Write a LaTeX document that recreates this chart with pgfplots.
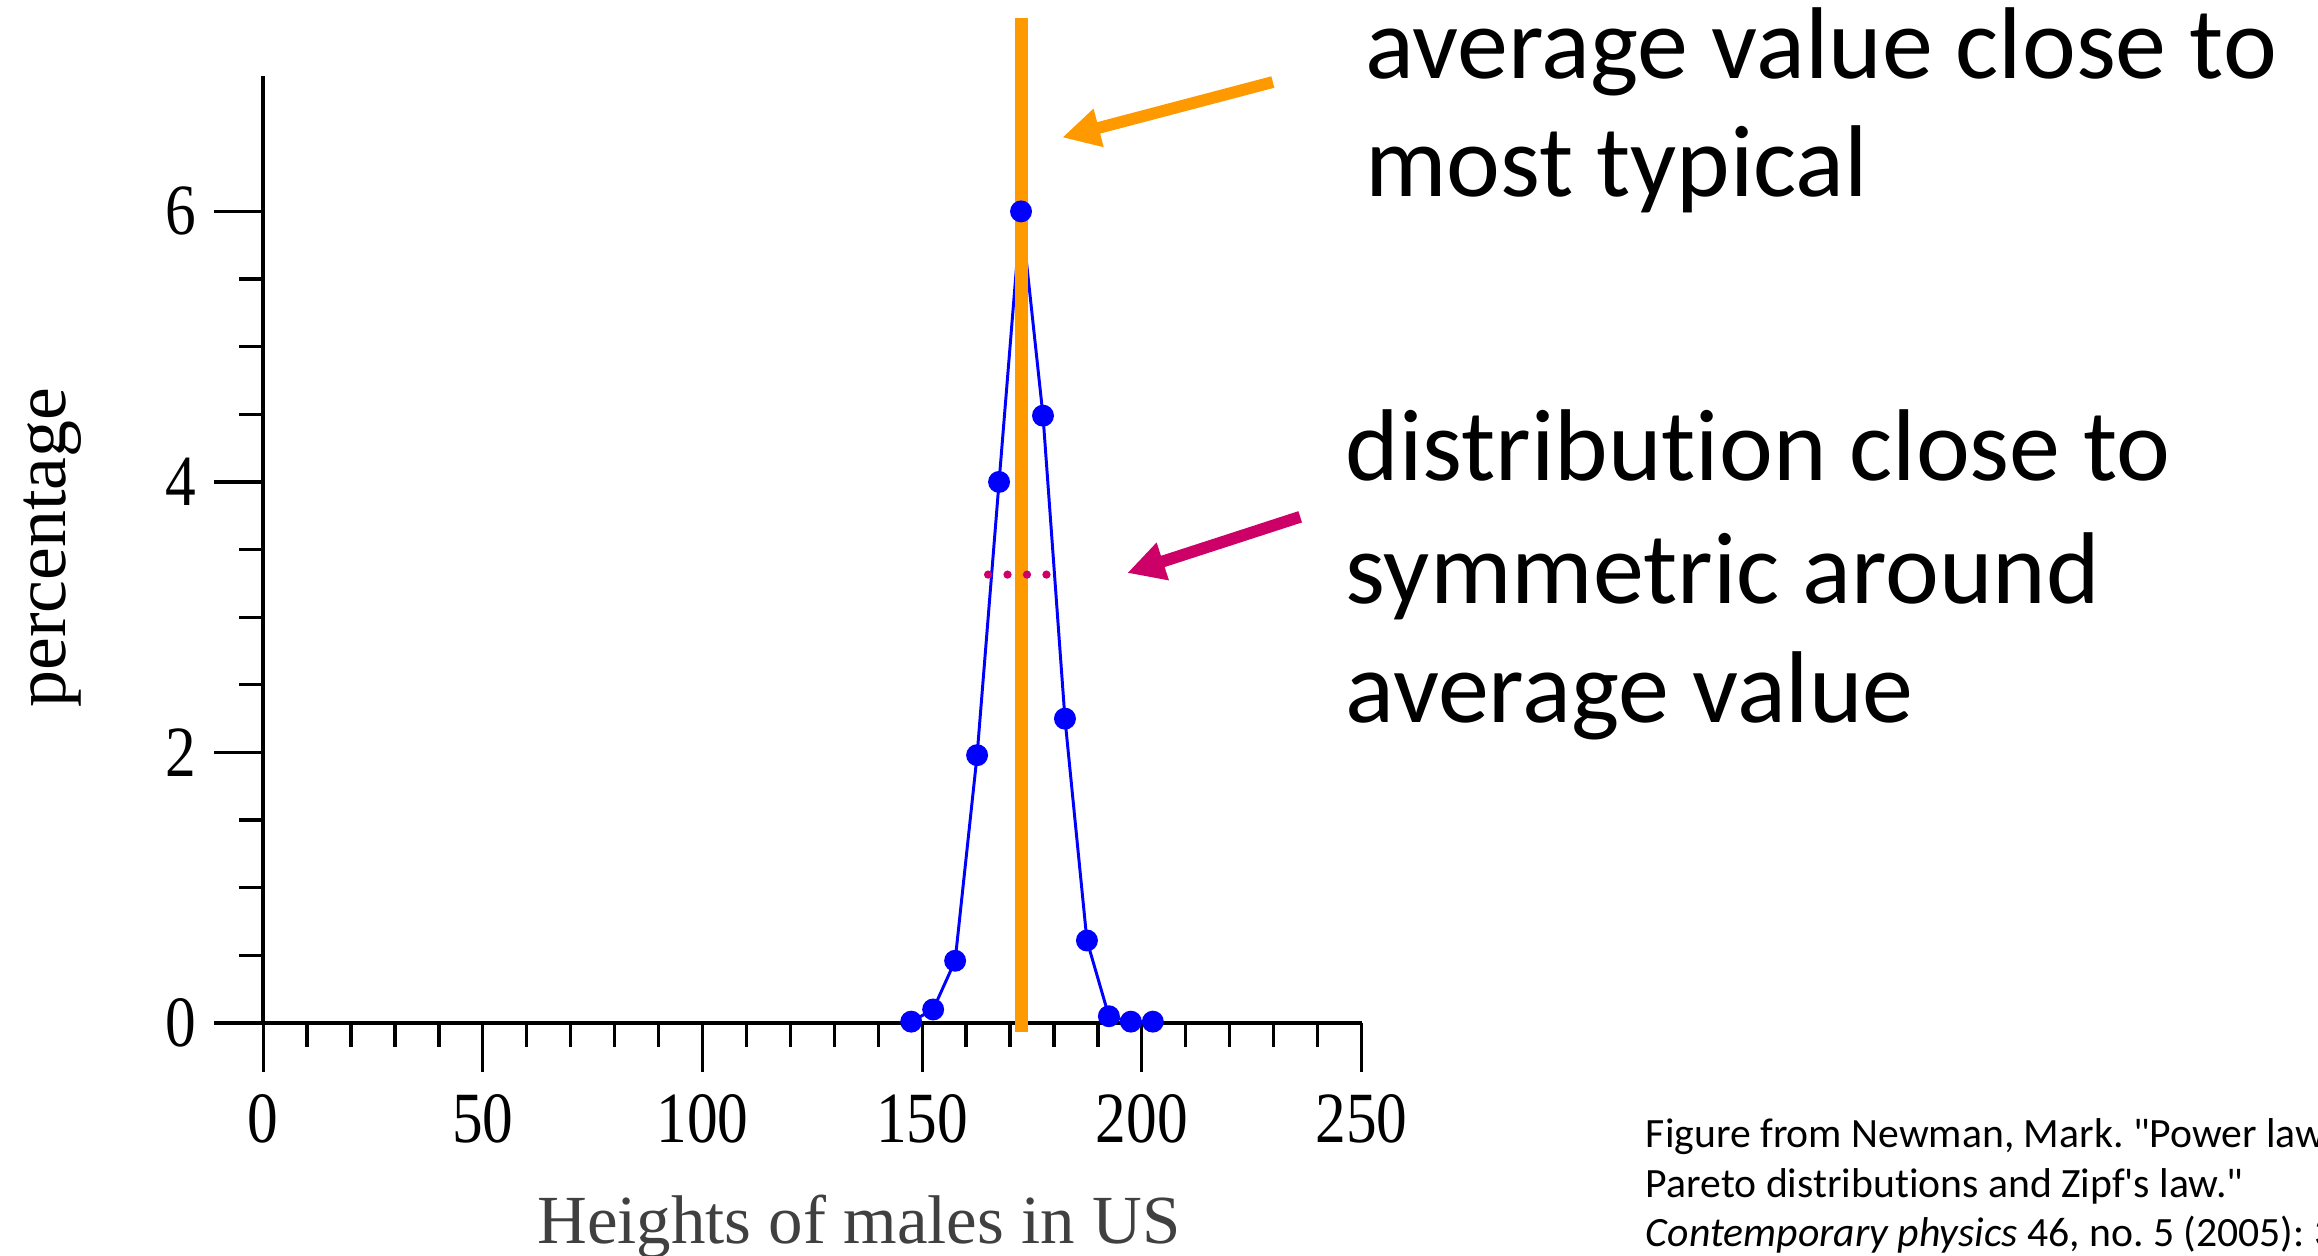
\documentclass[border=0pt]{standalone}
\usepackage{pgfplots}
\pgfplotsset{compat=1.18}
\usetikzlibrary{arrows.meta}
\usepackage{fontspec}
\setmainfont{Liberation Serif}
\newfontfamily\calibri[Ligatures=CommonOff]{Carlito}
\newfontfamily\tickfont[FakeStretch=0.85]{Liberation Serif}
\definecolor{orng}{RGB}{255,153,0}
\definecolor{pnk}{RGB}{204,0,102}
\definecolor{lblgray}{RGB}{64,64,64}
\frenchspacing

\begin{document}
\begin{tikzpicture}
\useasboundingbox (0,0) rectangle (784pt,-424.5pt);
\begin{axis}[
  at={(89pt,-346pt)}, anchor=south west,
  scale only axis, width=371.5pt, height=320.25pt,
  xmin=0, xmax=250, ymin=0, ymax=7,
  axis lines=left,
  axis line style={-, line width=1.4pt, black},
  xtick={0,50,...,250}, ytick={0,2,4,6},
  minor x tick num=4, minor y tick num=3,
  tick align=outside,
  major tick length=16.5pt, minor tick length=8pt,
  every tick/.style={black, line width=1.1pt},
  tick label style={font=\tickfont\fontsize{24.4}{28}\selectfont, /pgf/number format/assume math mode=true},
  xticklabel style={yshift=-4pt},
  yticklabel style={xshift=-2.5pt},
  clip=false,
  xlabel={Heights of males in US},
  xlabel style={at={(axis description cs:0.5424,0)}, anchor=base, yshift=-74.5pt, font=\fontsize{23.3}{27}\selectfont, text=lblgray, inner sep=0pt},
  ylabel={percentage},
  ylabel style={at={(axis description cs:-0.1803,0.502)}, anchor=base, font=\fontsize{25}{29}\selectfont, text=black, inner sep=0pt},
]
\addplot[blue, line width=1pt, mark=*, mark size=3.2pt, mark options={fill=blue, draw=blue}]
  coordinates {(147.5,0.01) (152.5,0.10) (157.5,0.46) (162.5,1.98) (167.5,4.0) (172.5,6.0)
               (177.5,4.49) (182.5,2.25) (187.5,0.61) (192.5,0.05) (197.5,0.01) (202.5,0.01)};
\addplot[orng, line width=4.3pt, forget plot] coordinates {(172.6,-0.07) (172.6,7.43)};
\addplot[pnk, line width=2.8pt, line cap=round, dash pattern=on 0pt off 6.58pt, forget plot]
  coordinates {(165.0,3.315) (178.4,3.315)};
\end{axis}

\draw[orng, line width=4pt, -{Triangle[length=12.75pt,width=12.5pt]}] (430.5pt,-27.75pt) -- (359.25pt,-46.5pt);
\draw[pnk, line width=4pt, -{Triangle[length=12.65pt,width=12.5pt]}] (439.75pt,-174.8pt) -- (381.25pt,-193.8pt);

\begin{scope}[every node/.style={anchor=base west, inner sep=0pt, font=\calibri\fontsize{34.5}{42}\selectfont}]
\node at (461.5pt,-26.5pt) {average value close to};
\node at (461.5pt,-66.5pt) {most typical};
\node at (455pt,-162.5pt) {distribution close to};
\node at (455pt,-204pt) {symmetric around};
\node at (455pt,-244.5pt) {average value};
\end{scope}

\begin{scope}[every node/.style={anchor=base west, inner sep=0pt, font=\calibri\fontsize{14.1}{17}\selectfont}]
\node at (556.5pt,-388pt) {Figure from Newman, Mark. "Power laws,};
\node at (556.5pt,-405pt) {Pareto distributions and Zipf\textquotesingle s law."};
\node at (556.5pt,-421.5pt) {\textit{Contemporary physics} 46, no. 5 (2005): 323--351.};
\end{scope}
\end{tikzpicture}
\end{document}
